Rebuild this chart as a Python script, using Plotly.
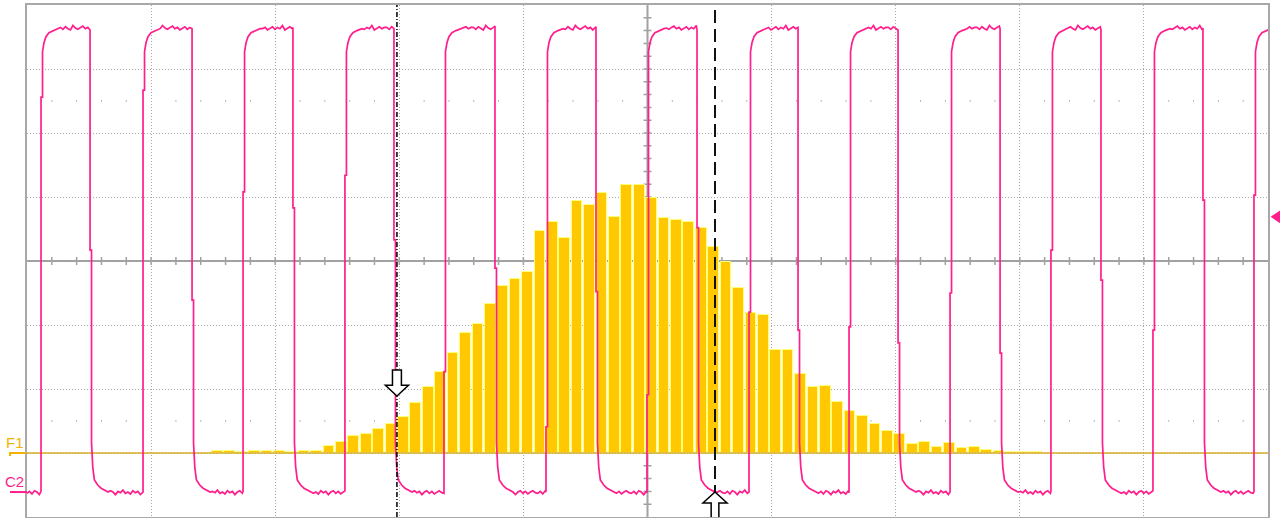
import plotly.graph_objects as go

# ----------------------------- data -----------------------------
# Channel C2: square wave. Time in screen divisions, amplitude in vertical divisions.
c2_rise_times = [0.113, 0.935, 1.741, 2.562, 3.360, 4.182, 4.996, 5.818, 6.624, 7.438, 8.251, 9.073, 9.887]
c2_fall_times = [0.508, 1.330, 2.143, 2.957, 3.771, 4.585, 5.399, 6.213, 7.019, 7.841, 8.654, 9.476]
c2_rise_step_levels = [2.56, 2.67, 1.08, 1.34, -1.73, -2.59, -2.09, -0.80, -1.03, -0.50, 0.17, -1.08, 1.03]
c2_fall_step_levels = [0.17, -0.61, 0.83, 0.33, -0.11, -0.48, 0.52, -1.08, -1.28, -1.44, -0.30, 0.95]
c2_high_level = 3.63
c2_low_level = -3.61
c2_rise_settle_dt = [0.012, 0.024, 0.040, 0.064, 0.097, 0.137]
c2_rise_settle_below_high = [0.36, 0.22, 0.125, 0.062, 0.03, 0.0]
c2_fall_settle_dt = [0.012, 0.022, 0.035, 0.062, 0.089, 0.145]
c2_fall_settle_above_low = [0.77, 0.39, 0.19, 0.11, 0.06, 0.0]
c2_high_ripple = [0.02, -0.01, 0.03, 0.0, -0.02, 0.05, 0.01, -0.01, 0.02, 0.04, 0.0, 0.02,
                  -0.02, 0.01, 0.03, -0.01, 0.02, 0.0, 0.05, -0.02, 0.01, 0.03, 0.0, 0.02]
c2_low_ripple = [-0.02, 0.01, -0.03, 0.02, 0.0, -0.04, 0.01, -0.01, 0.03, -0.02, 0.0, -0.03,
                 0.02, -0.01, 0.01, -0.04, 0.0, 0.02, -0.02, 0.01, -0.03, 0.0, 0.02, -0.01]
c2_ripple_step = 0.02
c2_trigger_level = 0.69

# Function F1: histogram (counts per bin)
f1_first_bin_center = 1.533
f1_bin_width = 0.1
f1_counts = [2, 2, 1, 2, 2, 2, 1, 2, 2,
             7, 11, 17, 19, 24, 29, 36, 50, 66, 81, 100, 120, 129, 149, 167, 174, 181,
             222, 231, 215, 252, 248, 260, 236, 268, 268, 255, 235, 233, 231, 225, 206,
             191, 165, 140, 138, 103, 103, 79, 66, 67, 51, 42, 37, 29, 22, 19, 9, 11,
             6, 10, 5, 6, 3, 2, 1, 1, 1]

# Cursors (time, divisions)
cursor1_x = 2.981
cursor2_x = 5.544

# ----------------------------- styles -----------------------------
PINK = '#ff1e8c'
GOLD = '#ffc800'
GOLD_EDGE = '#ffff78'
GOLD_TEXT = '#f0b400'
GRID = '#a8a8a8'
FRAME = '#a8a8a8'
AXIS = '#a0a0a0'
FONT = 'Liberation Sans, Arial, sans-serif'

# ----------------------------- build C2 trace -----------------------------
wx, wy = [], []
n_hi, n_lo = len(c2_high_ripple), len(c2_low_ripple)
seg_start = 0.0
for i, tr in enumerate(c2_rise_times):
    t = seg_start
    k = 3 * i
    while t < tr - 0.004:
        wx.append(t)
        wy.append(c2_low_level + c2_low_ripple[k % n_lo])
        t += c2_ripple_step
        k += 1
    wx += [tr, tr, tr + c2_rise_settle_dt[0]]
    wy += [c2_low_level + c2_low_ripple[k % n_lo], c2_rise_step_levels[i], c2_rise_step_levels[i]]
    for dt, d in zip(c2_rise_settle_dt, c2_rise_settle_below_high):
        wx.append(tr + dt)
        wy.append(c2_high_level - d)
    t = tr + c2_rise_settle_dt[-1] + c2_ripple_step
    k = 5 * i
    end = c2_fall_times[i] if i < len(c2_fall_times) else 10.2
    while t < end - 0.004:
        wx.append(t)
        wy.append(c2_high_level + c2_high_ripple[k % n_hi])
        t += c2_ripple_step
        k += 1
    if i < len(c2_fall_times):
        tf = c2_fall_times[i]
        wx += [tf, tf, tf + c2_fall_settle_dt[0]]
        wy += [c2_high_level + c2_high_ripple[k % n_hi], c2_fall_step_levels[i], c2_fall_step_levels[i]]
        for dt, a in zip(c2_fall_settle_dt, c2_fall_settle_above_low):
            wx.append(tf + dt)
            wy.append(c2_low_level + a)
        seg_start = tf + c2_fall_settle_dt[-1] + c2_ripple_step

f1_x = [f1_first_bin_center + i * f1_bin_width for i in range(len(f1_counts))]

fig = go.Figure()

# F1 baseline
fig.add_trace(go.Scatter(x=[0, 10], y=[0, 0], mode='lines', yaxis='y',
                         line=dict(color='#d9ad2a', width=1.5), hoverinfo='skip'))
# F1 histogram
fig.add_trace(go.Bar(x=f1_x, y=f1_counts, width=0.086, yaxis='y',
                     marker=dict(color=GOLD, line=dict(color=GOLD_EDGE, width=1))))
# C2 waveform
fig.add_trace(go.Scatter(x=wx, y=wy, mode='lines', yaxis='y2',
                         line=dict(color=PINK, width=1.7), hoverinfo='skip'))

# ----------------------------- graticule decorations -----------------------------
shapes = []
shapes.append(dict(type='line', xref='x', yref='y2', x0=5, x1=5, y0=-4, y1=4,
                   line=dict(color=AXIS, width=2), layer='below'))
shapes.append(dict(type='line', xref='x', yref='y2', x0=0, x1=10, y0=0, y1=0,
                   line=dict(color=AXIS, width=2), layer='below'))
tick_path = ''
for j in range(1, 50):
    xv = j * 0.2
    tick_path += f'M{xv:.3f},-0.0625 L{xv:.3f},0.0625 '
for j in range(1, 40):
    yv = -4 + j * 0.2
    tick_path += f'M4.968,{yv:.3f} L5.032,{yv:.3f} '
shapes.append(dict(type='path', xref='x', yref='y2', path=tick_path,
                   line=dict(color=AXIS, width=1.5), layer='below'))
dot_path = ''
for yv in (-2.5, 2.5):
    for j in range(1, 50):
        if j % 5 == 0:
            continue
        xv = j * 0.2
        dot_path += f'M{xv - 0.004:.3f},{yv} L{xv + 0.004:.3f},{yv} '
shapes.append(dict(type='path', xref='x', yref='y2', path=dot_path,
                   line=dict(color=AXIS, width=1.5), layer='below'))

# cursors
shapes.append(dict(type='line', xref='x', yref='y2', x0=cursor1_x, x1=cursor1_x, y0=-4, y1=4,
                   line=dict(color='black', width=1.5, dash='5px,2px,1px,2px'), layer='above'))
shapes.append(dict(type='line', xref='x', yref='y2', x0=cursor2_x, x1=cursor2_x, y0=-4, y1=4,
                   line=dict(color='#111111', width=2, dash='13px,6px'), layer='above'))
c = cursor1_x
arrow1 = (f'M{c - 0.036},-1.703 L{c + 0.036},-1.703 L{c + 0.036},-1.943 L{c + 0.093},-1.943 '
          f'L{c},-2.109 L{c - 0.093},-1.943 L{c - 0.036},-1.943 Z')
shapes.append(dict(type='path', xref='x', yref='y2', path=arrow1, fillcolor='white',
                   line=dict(color='black', width=1.5), layer='above'))
c = cursor2_x
arrow2 = (f'M{c - 0.031},-4.05 L{c - 0.031},-3.781 L{c - 0.097},-3.781 L{c},-3.609 '
          f'L{c + 0.097},-3.781 L{c + 0.031},-3.781 L{c + 0.031},-4.05 Z')
shapes.append(dict(type='path', xref='x', yref='y2', path=arrow2, fillcolor='white',
                   line=dict(color='black', width=1.5), layer='above'))

# trigger level marker (right edge)
ty = (c2_trigger_level + 4) / 8
shapes.append(dict(type='path', xref='paper', yref='paper',
                   path=f'M1.0021,{ty:.4f} L1.0097,{ty + 0.0125:.4f} L1.0097,{ty - 0.0125:.4f} Z',
                   fillcolor=PINK, line=dict(color=PINK, width=0)))
# trace ground markers (left edge)
f1_y = 64 / 512
c2_y = (c2_low_level + 4) / 8
shapes.append(dict(type='path', xref='paper', yref='paper',
                   path=f'M-0.0137,{f1_y - 0.006:.4f} L-0.0137,{f1_y:.4f} L-0.0008,{f1_y:.4f}',
                   line=dict(color=GOLD_TEXT, width=2)))
shapes.append(dict(type='line', xref='paper', yref='paper', x0=-0.0137, x1=0.0, y0=c2_y, y1=c2_y,
                   line=dict(color=PINK, width=2)))

annotations = [
    dict(text='F1', xref='paper', yref='paper', x=-0.0097, y=0.1455, showarrow=False,
         xanchor='center', yanchor='middle', font=dict(family=FONT, size=15, color=GOLD_TEXT)),
    dict(text='C2', xref='paper', yref='paper', x=-0.0097, y=0.0693, showarrow=False,
         xanchor='center', yanchor='middle', font=dict(family=FONT, size=15, color=PINK)),
]

fig.update_layout(
    width=1280, height=518,
    margin=dict(l=27, r=12, t=5, b=1),
    paper_bgcolor='white', plot_bgcolor='white',
    showlegend=False, bargap=0,
    xaxis=dict(range=[0, 10], tick0=0, dtick=1, showgrid=True, gridcolor=GRID, gridwidth=1,
               griddash='1px,2px', zeroline=False, showticklabels=False, ticks='',
               showline=True, mirror=True, linecolor=FRAME, linewidth=2, fixedrange=True),
    yaxis=dict(range=[-64, 448], showgrid=False, zeroline=False, showticklabels=False, ticks='',
               showline=True, mirror=True, linecolor=FRAME, linewidth=2, fixedrange=True),
    yaxis2=dict(range=[-4, 4], overlaying='y', tick0=0, dtick=1, showgrid=True, gridcolor=GRID,
                gridwidth=1, griddash='1px,2px', zeroline=False, showticklabels=False, ticks='',
                showline=False, fixedrange=True),
    shapes=shapes, annotations=annotations,
)

fig.write_html('out.html', config={'displayModeBar': False},
               post_script="document.body.style.margin='0px';document.body.style.overflow='hidden';")
